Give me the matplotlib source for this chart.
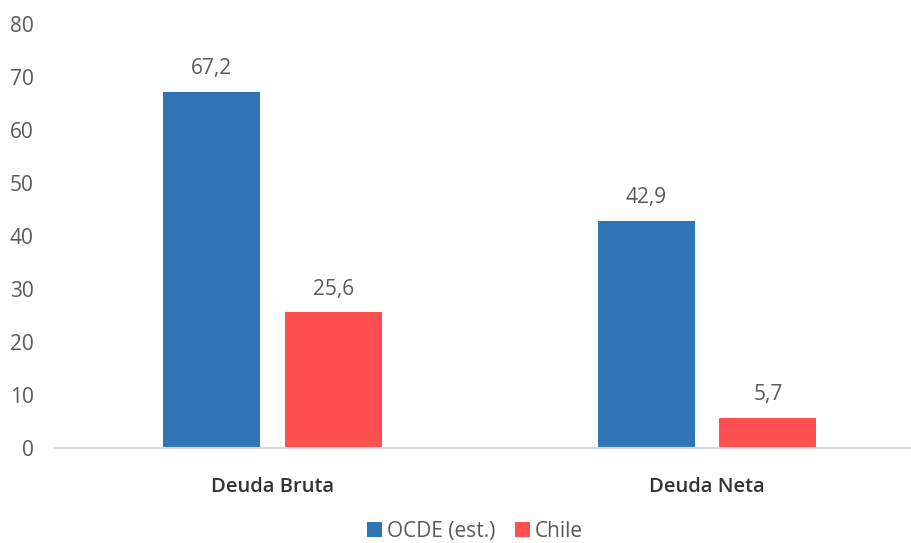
import numpy as np
import matplotlib.pyplot as plt

categories = ['Deuda Bruta', 'Deuda Neta']
ocde = [67.2, 42.9]
chile = [25.6, 5.7]
series_names = ['OCDE (est.)', 'Chile']

blue = '#2E75B6'
red = '#FF5050'

plt.rcParams['font.family'] = ['Open Sans', 'DejaVu Sans']

fig = plt.figure(figsize=(9.11, 5.43), dpi=100)
ax = fig.add_axes([0.0604, 0.175, 0.94, 0.781])

x = np.arange(len(categories))
w = 0.2235
off = 0.14
b1 = ax.bar(x - off, ocde, w, color=blue, label=series_names[0])
b2 = ax.bar(x + off, chile, w, color=red, label=series_names[1])

# etiquetas de datos con coma decimal
for bars, vals in ((b1, ocde), (b2, chile)):
    for r, v in zip(bars, vals):
        ax.text(r.get_x() + r.get_width() / 2, v + 2.4, f'{v:.1f}'.replace('.', ','),
                ha='center', va='bottom', fontsize=15, color='#595959')

ax.set_xlim(-0.5, 1.47)
ax.set_ylim(0, 80)
ax.set_yticks(range(0, 81, 10))
ax.tick_params(axis='y', length=0, labelsize=15, labelcolor='#595959', pad=15.5)
ax.set_xticks(x)
ax.set_xticklabels(categories, fontsize=14.5, fontweight='semibold', color='#333333')
ax.tick_params(axis='x', length=0, pad=21)
for s in ['top', 'right', 'left']:
    ax.spines[s].set_visible(False)
ax.spines['bottom'].set_color('#D9D9D9')
ax.spines['bottom'].set_linewidth(1.5)

fig.legend(loc='center', bbox_to_anchor=(0.5214, 0.022), ncol=2, frameon=False,
           fontsize=15, labelcolor='#595959', handlelength=0.72, handleheight=0.72,
           handletextpad=0.24, columnspacing=0.96)

fig.savefig('out.png', dpi=100)
